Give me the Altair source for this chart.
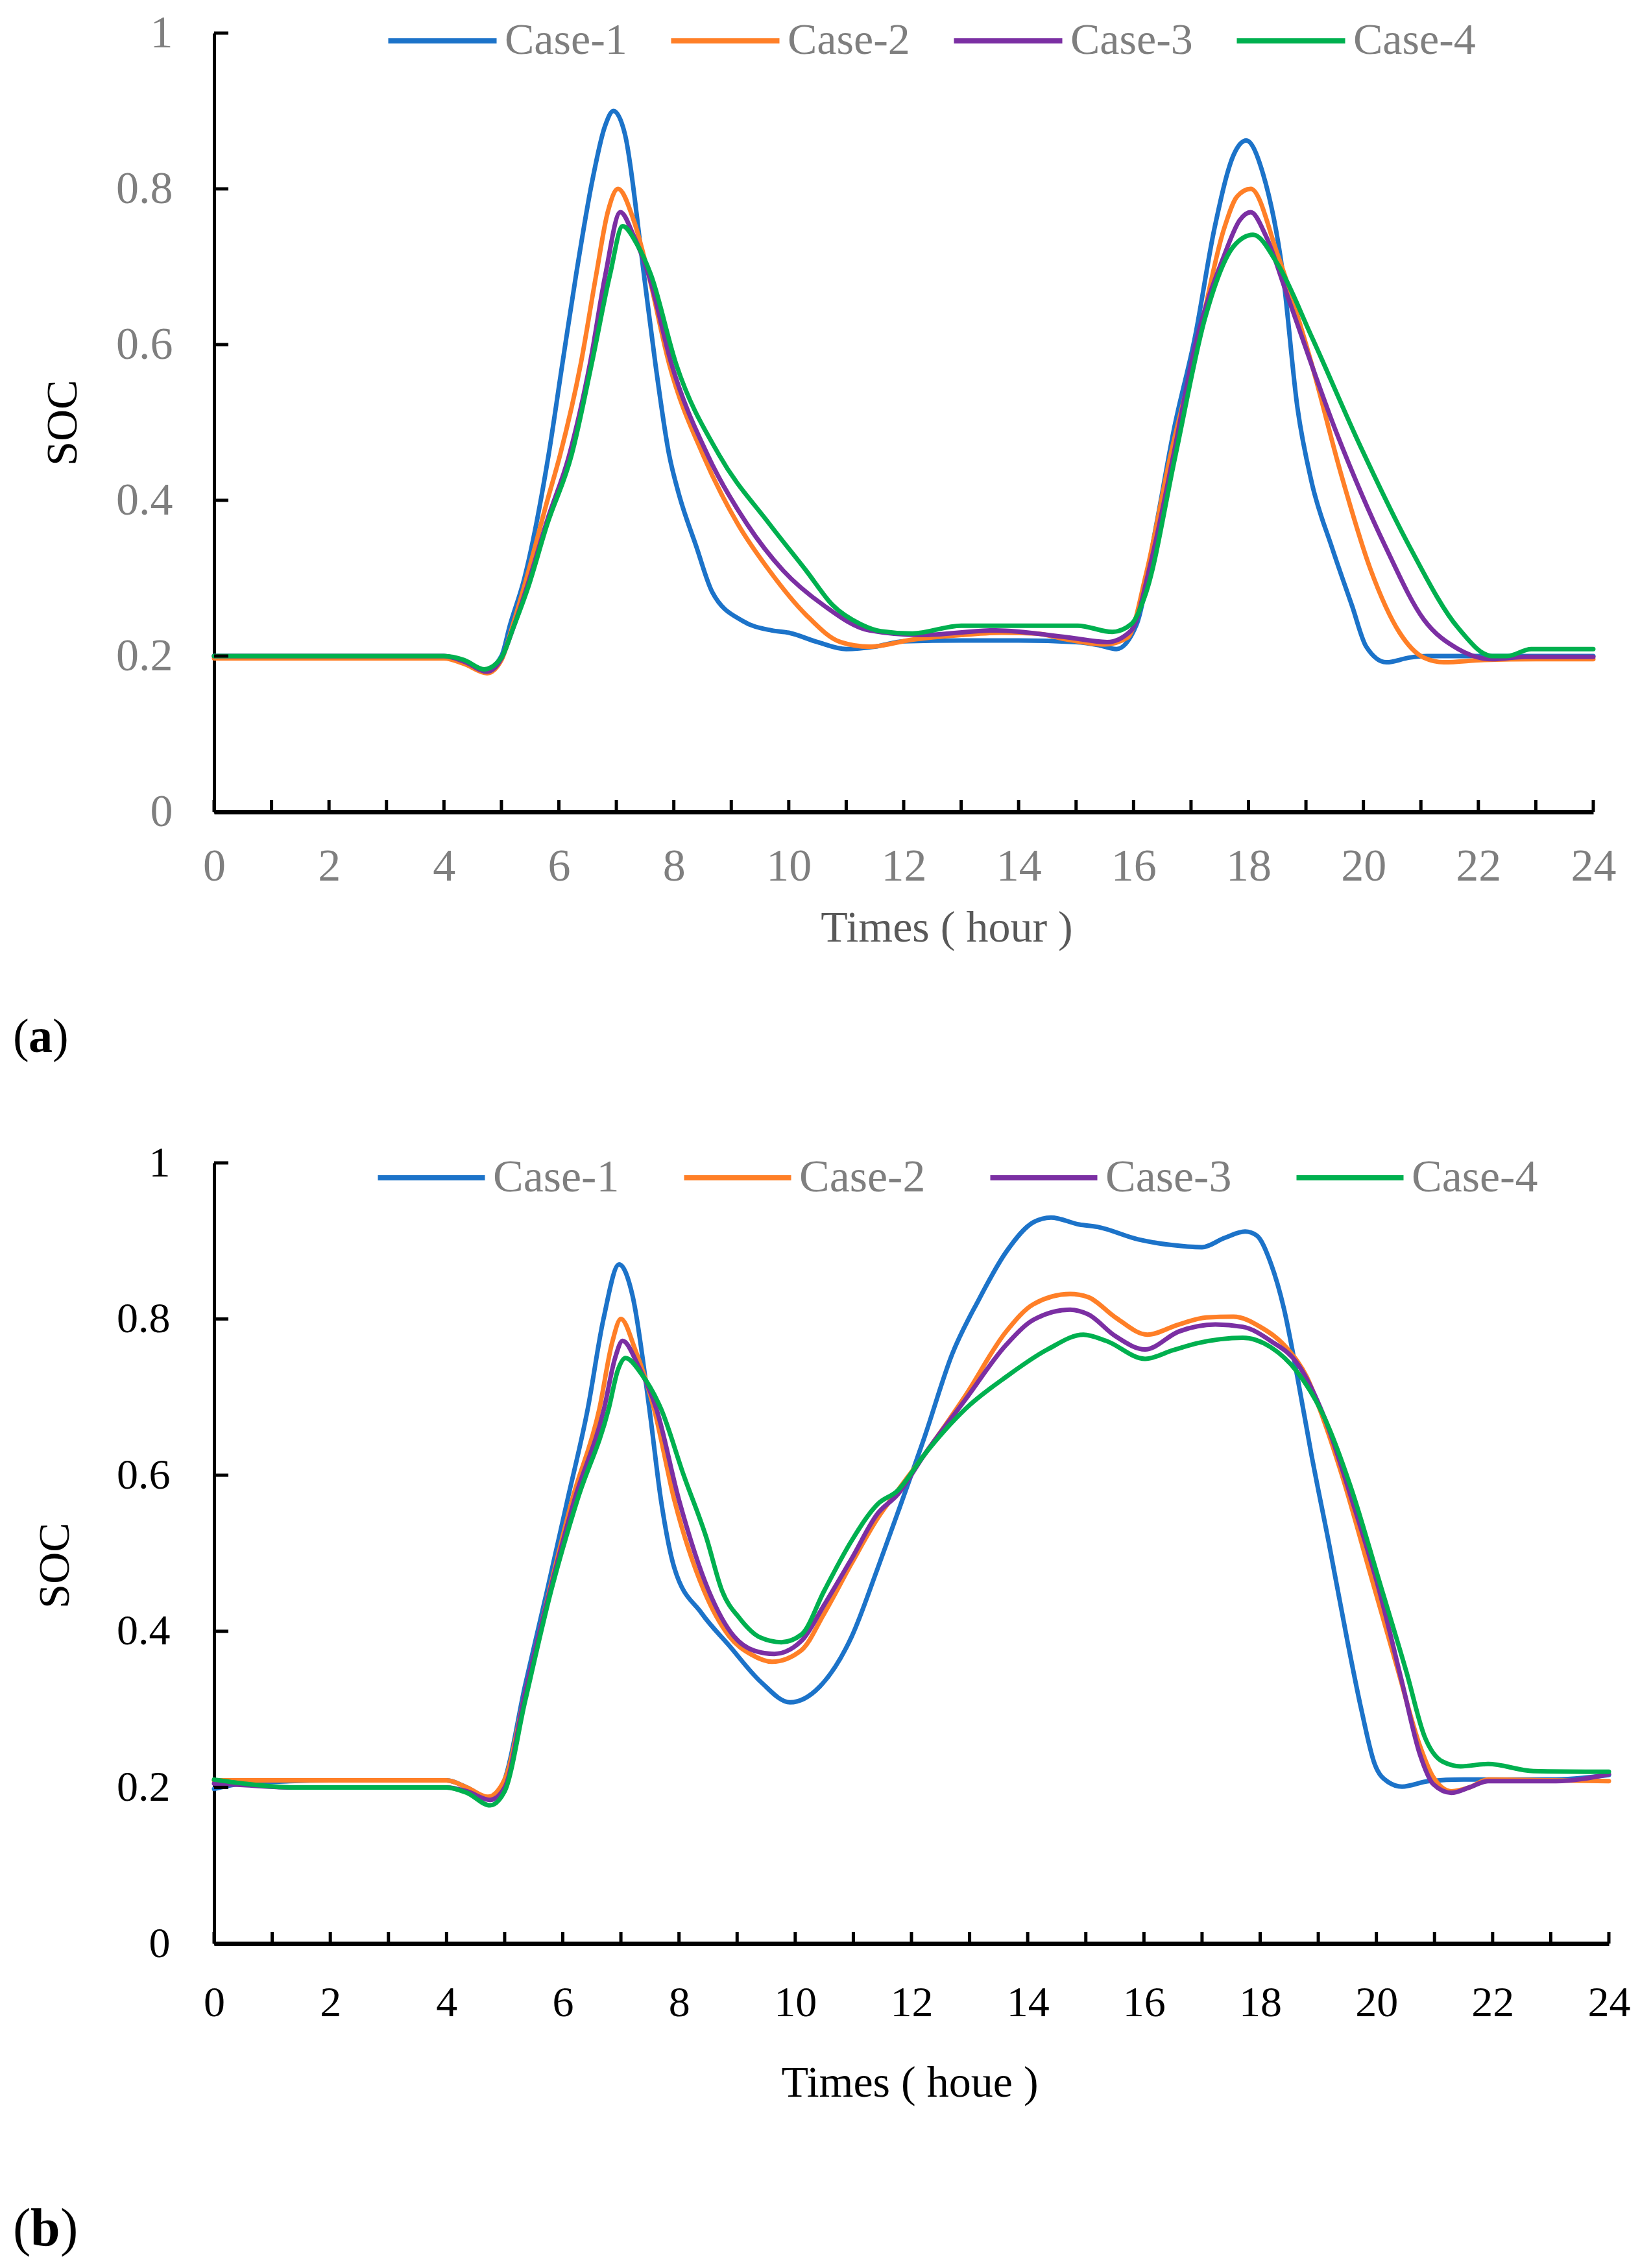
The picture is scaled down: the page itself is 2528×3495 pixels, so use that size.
import altair as alt
import pandas as pd

CASES = ["Case-1", "Case-2", "Case-3", "Case-4"]
COLORS = ["#1C73C9", "#FF7F27", "#7B2FA3", "#00B04F"]
X_LABEL_TICKS = list(range(0, 25, 2))
X_MINOR_TICKS = list(range(0, 25))
Y_TICKS = [0, 0.2, 0.4, 0.6, 0.8, 1]

# ---------------- panel (a) ----------------
a1_h = [0, 1, 2, 3, 4, 4.35, 4.7, 5.0, 5.15, 5.4, 5.82, 6.06, 6.3, 6.58, 6.8, 6.95, 7.15, 7.48, 7.68, 7.92, 8.08, 8.39, 8.67, 9.2, 9.7, 10.0, 10.5, 11.0, 11.5, 12, 13, 14, 15, 15.4, 15.7, 16.05, 16.4, 16.7, 17.07, 17.41, 17.75, 17.96, 18.25, 18.6, 18.85, 19.1, 19.45, 19.8, 20.05, 20.4, 20.8, 21.1, 22, 23, 24]
a1_v = [0.2, 0.2, 0.2, 0.2, 0.2, 0.193, 0.18, 0.2, 0.24, 0.30, 0.458, 0.575, 0.69, 0.81, 0.88, 0.90, 0.87, 0.69, 0.575, 0.458, 0.41, 0.341, 0.282, 0.245, 0.233, 0.23, 0.218, 0.209, 0.212, 0.219, 0.22, 0.22, 0.218, 0.214, 0.209, 0.24, 0.37, 0.49, 0.61, 0.75, 0.845, 0.862, 0.82, 0.69, 0.52, 0.423, 0.34, 0.265, 0.212, 0.192, 0.198, 0.2, 0.2, 0.2, 0.2]

a2_h = [0, 1, 2, 3, 4, 4.35, 4.75, 5.0, 5.2, 5.4, 5.8, 6.02, 6.38, 6.65, 6.85, 7.03, 7.3, 7.56, 7.92, 8.51, 9.11, 9.66, 10.3, 10.9, 11.4, 12.15, 13, 13.7, 14.3, 14.86, 15.5, 15.9, 16.22, 16.65, 17.07, 17.58, 17.8, 18.04, 18.51, 19.1, 19.61, 20.12, 20.63, 21.05, 21.4, 22.1, 23, 24]
a2_v = [0.197, 0.197, 0.197, 0.197, 0.197, 0.19, 0.178, 0.195, 0.24, 0.29, 0.40, 0.458, 0.575, 0.69, 0.77, 0.80, 0.76, 0.69, 0.575, 0.458, 0.37, 0.31, 0.253, 0.218, 0.212, 0.221, 0.227, 0.23, 0.229, 0.221, 0.215, 0.224, 0.306, 0.46, 0.586, 0.75, 0.79, 0.80, 0.715, 0.575, 0.434, 0.312, 0.23, 0.198, 0.192, 0.195, 0.196, 0.196]

a3_h = [0, 1, 2, 3, 4, 4.35, 4.75, 5.0, 5.2, 5.45, 5.8, 6.18, 6.54, 6.81, 7.07, 7.3, 7.56, 7.96, 8.59, 9.27, 9.9, 10.61, 11.4, 12.3, 13.6, 14.86, 15.54, 15.96, 16.3, 16.7, 17.07, 17.58, 17.85, 18.04, 18.3, 18.68, 19.53, 20.38, 21.05, 21.65, 22.24, 22.81, 24]
a3_v = [0.2, 0.2, 0.2, 0.2, 0.2, 0.193, 0.18, 0.197, 0.235, 0.29, 0.375, 0.458, 0.575, 0.69, 0.77, 0.74, 0.69, 0.575, 0.458, 0.37, 0.31, 0.265, 0.233, 0.227, 0.233, 0.224, 0.218, 0.233, 0.32, 0.46, 0.598, 0.715, 0.76, 0.77, 0.74, 0.662, 0.487, 0.341, 0.247, 0.209, 0.196, 0.199, 0.199]

a4_h = [0, 1, 2, 3, 4, 4.35, 4.7, 5.0, 5.2, 5.45, 5.8, 6.22, 6.57, 6.89, 7.11, 7.35, 7.6, 8.04, 8.79, 9.66, 10.3, 10.77, 11.25, 11.6, 12.15, 13, 14, 15.03, 15.63, 15.96, 16.22, 16.73, 17.24, 17.75, 18.08, 18.51, 19.1, 19.95, 20.8, 21.65, 22.24, 22.5, 22.92, 24]
a4_v = [0.2, 0.2, 0.2, 0.2, 0.2, 0.195, 0.183, 0.198, 0.235, 0.285, 0.37, 0.458, 0.575, 0.69, 0.752, 0.73, 0.69, 0.575, 0.458, 0.37, 0.31, 0.265, 0.241, 0.232, 0.229, 0.239, 0.239, 0.239, 0.231, 0.241, 0.282, 0.458, 0.633, 0.727, 0.741, 0.703, 0.61, 0.469, 0.341, 0.236, 0.2, 0.2, 0.209, 0.209]

# ---------------- panel (b) ----------------
b1_h = [0, 0.4, 1.3, 2, 3, 4, 4.35, 4.75, 5.0, 5.35, 5.73, 6.08, 6.43, 6.7, 6.97, 7.2, 7.49, 7.69, 7.92, 8.39, 8.86, 9.41, 9.91, 10.42, 10.97, 11.42, 11.76, 12.23, 12.7, 13.16, 13.63, 14.1, 14.4, 14.89, 15.2, 15.9, 16.45, 17.0, 17.39, 17.74, 17.94, 18.18, 18.41, 18.64, 18.88, 19.19, 19.5, 19.74, 19.97, 20.2, 20.44, 20.9, 21.5, 22, 23, 24]
b1_v = [0.198, 0.204, 0.208, 0.209, 0.209, 0.209, 0.2, 0.186, 0.21, 0.33, 0.452, 0.568, 0.685, 0.80, 0.87, 0.83, 0.685, 0.568, 0.481, 0.423, 0.382, 0.335, 0.309, 0.329, 0.393, 0.481, 0.551, 0.65, 0.755, 0.825, 0.886, 0.924, 0.93, 0.921, 0.918, 0.902, 0.895, 0.892, 0.904, 0.912, 0.907, 0.872, 0.813, 0.726, 0.627, 0.51, 0.388, 0.3, 0.23, 0.207, 0.201, 0.208, 0.21, 0.21, 0.21, 0.216]

b2_h = [0, 1, 2, 3, 4, 4.35, 4.71, 5.0, 5.35, 5.77, 6.16, 6.63, 6.85, 7.0, 7.25, 7.57, 7.92, 8.43, 8.86, 9.25, 9.6, 10.11, 10.5, 10.97, 11.42, 11.76, 12.23, 12.93, 13.63, 14.1, 14.73, 15.04, 15.51, 16.06, 16.6, 17.07, 17.54, 18.0, 18.48, 18.8, 19.11, 19.42, 19.89, 20.36, 20.75, 20.98, 21.29, 21.6, 21.92, 23, 24]
b2_v = [0.209, 0.209, 0.209, 0.209, 0.209, 0.2, 0.188, 0.21, 0.32, 0.452, 0.568, 0.685, 0.77, 0.80, 0.76, 0.685, 0.568, 0.452, 0.394, 0.37, 0.361, 0.376, 0.423, 0.487, 0.545, 0.58, 0.627, 0.702, 0.784, 0.819, 0.832, 0.828, 0.802, 0.78, 0.793, 0.802, 0.803, 0.79, 0.761, 0.726, 0.667, 0.597, 0.475, 0.353, 0.253, 0.213, 0.195, 0.2, 0.21, 0.209, 0.208]

b3_h = [0, 0.5, 1.35, 2, 3, 4, 4.35, 4.75, 5.0, 5.35, 5.78, 6.2, 6.71, 6.9, 7.03, 7.3, 7.61, 8.0, 8.51, 8.94, 9.3, 9.64, 10.11, 10.5, 10.97, 11.42, 11.76, 12.23, 12.93, 13.63, 14.1, 14.73, 15.04, 15.51, 16.02, 16.6, 17.23, 17.7, 18.18, 18.64, 19.11, 19.58, 20.05, 20.44, 20.75, 20.98, 21.29, 21.6, 21.92, 23.09, 24]
b3_v = [0.205, 0.203, 0.2, 0.2, 0.2, 0.2, 0.195, 0.184, 0.2, 0.32, 0.452, 0.568, 0.685, 0.75, 0.772, 0.74, 0.685, 0.568, 0.452, 0.394, 0.375, 0.371, 0.388, 0.434, 0.493, 0.551, 0.575, 0.627, 0.697, 0.767, 0.799, 0.812, 0.806, 0.778, 0.761, 0.784, 0.793, 0.79, 0.772, 0.743, 0.673, 0.568, 0.452, 0.335, 0.242, 0.204, 0.193, 0.2, 0.208, 0.208, 0.217]

b4_h = [0, 0.5, 1.35, 2, 3, 4, 4.35, 4.75, 5.0, 5.35, 5.8, 6.25, 6.79, 6.95, 7.08, 7.35, 7.69, 8.08, 8.47, 8.74, 9.05, 9.4, 9.76, 10.11, 10.5, 10.97, 11.42, 11.76, 12.23, 12.93, 13.63, 14.34, 14.96, 15.35, 16.02, 16.5, 16.92, 17.7, 18.18, 18.64, 19.11, 19.58, 20.05, 20.52, 20.83, 21.14, 21.45, 21.92, 22.7, 24]
b4_v = [0.21, 0.205, 0.2, 0.2, 0.2, 0.2, 0.193, 0.177, 0.195, 0.31, 0.452, 0.568, 0.685, 0.735, 0.75, 0.73, 0.685, 0.60, 0.52, 0.452, 0.416, 0.392, 0.386, 0.396, 0.452, 0.516, 0.563, 0.58, 0.627, 0.685, 0.726, 0.761, 0.78, 0.772, 0.749, 0.76, 0.769, 0.776, 0.764, 0.732, 0.673, 0.58, 0.464, 0.347, 0.265, 0.233, 0.227, 0.23, 0.221, 0.22]


def long_df(series):
    rows = []
    for case, hs, vs in series:
        for h, v in zip(hs, vs):
            rows.append({"case": case, "hour": h, "soc": v})
    return pd.DataFrame(rows)


df_a = long_df([("Case-1", a1_h, a1_v), ("Case-2", a2_h, a2_v),
                ("Case-3", a3_h, a3_v), ("Case-4", a4_h, a4_v)])
df_b = long_df([("Case-1", b1_h, b1_v), ("Case-2", b2_h, b2_v),
                ("Case-3", b3_h, b3_v), ("Case-4", b4_h, b4_v)])

FONT = "Liberation Serif"


def panel(df, W, H, st):
    xs = alt.Scale(domain=[0, 24], nice=False, zero=False)
    ys = alt.Scale(domain=[0, 1], nice=False, zero=False)
    legend = alt.Legend(
        orient="none", legendX=st["legX"], legendY=st["legY"], direction="horizontal",
        title=None, symbolType="M-5,0L5,0", symbolSize=st["symSize"], symbolStrokeWidth=8,
        labelFont=FONT, labelFontSize=st["legFS"], labelColor="#7f7f7f",
        labelOffset=st["labOff"], columnPadding=st["colPad"], padding=0, labelLimit=0,
    )
    lines = alt.Chart(df).mark_line(
        interpolate="monotone", strokeWidth=7, strokeCap="round", strokeJoin="round"
    ).encode(
        x=alt.X("hour:Q", scale=xs, axis=alt.Axis(
            orient="bottom", values=X_LABEL_TICKS, format="d", ticks=False, tickSize=0,
            grid=False, domainColor="black", domainWidth=7, labelFlush=False,
            labelFont=FONT, labelFontSize=st["tickFS"], labelColor=st["tickColor"],
            labelPadding=st["xLabPad"],
            title=st["xTitle"], titleFont=FONT, titleFontSize=st["titleFS"],
            titleFontWeight="normal", titleColor=st["xTitleColor"],
            titleX=st["xTitleX"], titleY=st["xTitleY"], titleBaseline="alphabetic",
            titleAlign="center")),
        y=alt.Y("soc:Q", scale=ys, axis=alt.Axis(
            orient="left", values=Y_TICKS, format="~g", ticks=False, tickSize=0,
            grid=False, domainColor="black", domainWidth=5, labelFlush=False,
            labelFont=FONT, labelFontSize=st["tickFS"], labelColor=st["tickColor"],
            labelPadding=st["yLabPad"],
            title="SOC", titleFont=FONT, titleFontSize=st["titleFS"],
            titleFontWeight="normal", titleColor="black", titleAngle=270,
            titleX=st["yTitleX"], titleY=st["yTitleY"], titleBaseline="middle",
            titleAlign="center")),
        color=alt.Color("case:N", scale=alt.Scale(domain=CASES, range=COLORS), legend=legend),
    )
    xt = alt.Chart(pd.DataFrame({"t": X_MINOR_TICKS})).mark_rule(
        color="black", strokeWidth=5).encode(
        x=alt.X("t:Q", scale=xs, axis=None), y=alt.value(H), y2=alt.value(H - 18))
    yt = alt.Chart(pd.DataFrame({"t": Y_TICKS})).mark_rule(
        color="black", strokeWidth=5).encode(
        y=alt.Y("t:Q", scale=ys, axis=None), x=alt.value(0), x2=alt.value(22))
    lab_df = pd.DataFrame({"t": [st["letter"]]})
    fs = st["panelFS"]
    lp = alt.Chart(lab_df).mark_text(text="(", font=FONT, fontSize=fs, align="left",
                                     baseline="alphabetic", color="black").encode(
        x=alt.value(st["panelX"]), y=alt.value(st["panelY"]))
    lm = alt.Chart(lab_df).mark_text(font=FONT, fontSize=fs, fontWeight="bold",
                                     align="left", baseline="alphabetic", color="black").encode(
        text="t:N", x=alt.value(st["panelX"] + st["letDx"]), y=alt.value(st["panelY"]))
    rp = alt.Chart(lab_df).mark_text(text=")", font=FONT, fontSize=fs, align="left",
                                     baseline="alphabetic", color="black").encode(
        x=alt.value(st["panelX"] + st["rpDx"]), y=alt.value(st["panelY"]))
    return alt.layer(lines, xt, yt, lp, lm, rp).resolve_axis(
        x="independent", y="independent").properties(width=W, height=H)


top = panel(df_a, 2126, 1200, dict(
    legX=318, legY=-22, symSize=1116, legFS=68, labOff=62, colPad=51,
    tickFS=70, tickColor="#7f7f7f", xLabPad=50, yLabPad=64,
    xTitle="Times ( hour )", titleFS=68, xTitleColor="#595959", xTitleX=1129, xTitleY=199,
    yTitleX=-233, yTitleY=600, letter="a", panelFS=74, panelX=-310, panelY=1570,
    letDx=24, rpDx=61))

bottom = panel(df_b, 2150, 1203, dict(
    legX=300, legY=-12, symSize=1089, legFS=70, labOff=60, colPad=83,
    tickFS=66, tickColor="black", xLabPad=59, yLabPad=68,
    xTitle="Times ( houe )", titleFS=68, xTitleColor="black", xTitleX=1072, xTitleY=235,
    yTitleX=-245, yTitleY=620, letter="b", panelFS=82, panelX=-310, panelY=1668,
    letDx=27, rpDx=73))

chart = alt.vconcat(top, bottom, spacing=541, bounds="flush").resolve_scale(
    color="independent").resolve_legend(color="independent").properties(
    padding={"left": 12, "top": 8, "right": 0, "bottom": 8}
).configure_view(stroke=None)

chart.save("out.html", embed_options={"renderer": "svg", "actions": False})
